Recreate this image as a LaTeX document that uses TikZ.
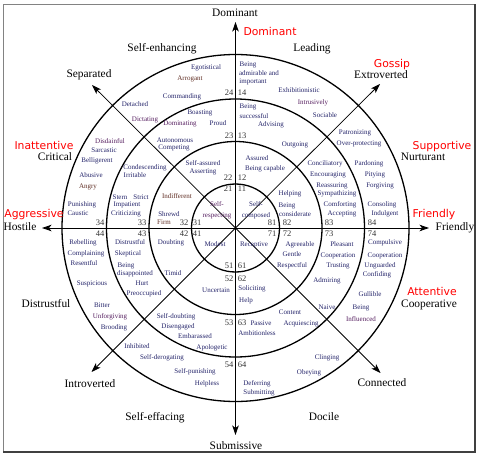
\documentclass[tikz,border=0pt]{standalone}
\usepackage{fontspec}
\setmainfont{Liberation Serif}
\newfontfamily\redsans{DejaVu Sans}
\usetikzlibrary{arrows.meta}
\definecolor{navyt}{RGB}{35,35,105}
\definecolor{purplet}{RGB}{85,30,95}
\definecolor{brownt}{RGB}{95,45,35}
\definecolor{framegray}{RGB}{130,130,130}
\begin{document}
\begin{tikzpicture}[x=1pt,y=-1pt,
  ring/.style={line width=1.3pt},
  axis/.style={line width=0.9pt,-{Stealth[length=9.5pt,width=6.5pt,inset=2.5pt]}},
  diag/.style={line width=0.75pt,-{Stealth[length=9.5pt,width=6.5pt,inset=2.5pt]}},
  lab/.style={font=\fontsize{7}{8}\selectfont,inner sep=0pt,text height=4.6pt,text depth=0.6pt,text=navyt},
  num/.style={font=\fontsize{8.5}{9}\selectfont,inner sep=0pt,text height=5.8pt,text depth=0pt,text=black!80},
  big/.style={font=\fontsize{11.4}{13}\selectfont,inner sep=0pt,text height=7.8pt,text depth=0.6pt},
  redlab/.style={font=\redsans\fontsize{10.8}{12}\selectfont,inner sep=0pt,text height=7.9pt,text depth=0.3pt,text=red}]
\useasboundingbox (0,0) rectangle (478,454);
% frame
\draw[framegray,line width=0.9pt] (3,452) -- (3,4) -- (475,4);
\draw[black!75,line width=1.2pt] (3,452) -- (475,452) -- (475,4);
% centre and axis ends
\coordinate (O) at (235.5,228);
\coordinate (N) at (235.5,22);
\coordinate (S) at (235.5,435);
\coordinate (W) at (42,228);
\coordinate (E) at (429,228);
\coordinate (NW) at (92,85);
\coordinate (NE) at (380,84);
\coordinate (SW) at (91.5,372);
\coordinate (SE) at (380.5,373);
% rings
\foreach \r in {44,86.5,129,173.5} \draw[ring] (O) circle (\r pt);
% axes
\draw[axis] (O) -- (N);
\draw[axis] (O) -- (S);
\draw[axis] (O) -- (W);
\draw[axis] (O) -- (E);
\draw[diag] (O) -- (NW);
\draw[diag] (O) -- (NE);
\draw[diag] (O) -- (SW);
\draw[diag] (O) -- (SE);
% navy labels
\foreach \x/\y/\lbl [count=\i] in {
206/68/Egotistical, 182/97/Commanding, 135/105/Detached, 200/113/Boasting, 218/124/Proud,
175/141/Autonomous, 174/148/Competing, 104/151/Sarcastic, 97/161/Belligerent, 145/168/Condescending,
135/176/Irritable, 91/176/Abusive, 203/164/Self-assured, 203/172/Asserting, 120/197/Stern,
141/197/Strict, 82/204/Punishing, 127/204/Impatient, 78/213/Caustic, 126/213/Criticizing,
169/214/Shrewd, 248/65/Being, 259/74/admirable and, 253/82/important, 299/91/Exhibitionistic,
248/107/Being, 254/117/successful, 325/116/Sociable, 271/125/Advising, 355/133/Patronizing,
359/144/Over-protecting, 295/145/Outgoing, 257/159/Assured, 265/169/Being capable, 325/164/Conciliatory,
369/164/Pardoning, 328/174/Encouraging, 375/175/Pitying, 332/185/Reassuring, 380/185/Forgiving,
290/194/Helping, 337/194/Sympathizing, 256/204/Self-, 256/215/composed, 287/205/Being,
295/214/considerate, 340/204/Comforting, 382/204/Consoling, 342/213/Accepting, 385/213/Indulgent,
83/242/Rebelling, 130/242/Distrustful, 171/242/Doubting, 215/244/Modest, 254/244/Receptive,
300/244/Agreeable, 342/244/Pleasant, 385/242/Compulsive, 86/253/Complaining, 128/253/Skeptical,
292/254/Gentle, 338/255/Cooperation, 385/255/Cooperation, 84/263/Resentful, 126/265/Being,
135/273/disappointed, 292/265/Respectful, 338/265/Trusting, 380/265/Unguarded, 377/274/Confiding,
173/273/Timid, 92/283/Suspicious, 142/283/Hurt, 144/293/Preoccupied, 327/280/Admiring,
252/288/Soliciting, 216/290/Uncertain, 370/294/Gullible, 246/300/Help, 102/305/Bitter,
327/307/Naive, 361/307/Being, 290/312/Content, 176/316/Self-doubting, 261/323/Passive,
301/323/Acquiescing, 178/326/Disengaged, 114/327/Brooding, 257/333/Ambitionless, 195/336/Embarassed,
212/347/Apologetic, 137/346/Inhibited, 162/357/Self-derogating, 327/357/Clinging, 195/371/Self-punishing,
309/372/Obeying, 207/383/Helpless, 257/383/Deferring, 259/392/Submitting}
  \node[lab] (nv\i) at (\x,\y) {\lbl};
% purple labels
\foreach \x/\y/\lbl [count=\i] in {
145/120/Dictating, 180/124/Dominating, 110/142/Disdainful, 313/103/Intrusively,
217/204/Self-, 217/215/respecting, 110/316/Unforgiving, 361/319/Influenced}
  \node[lab,text=purplet] (np\i) at (\x,\y) {\lbl};
% brown labels
\foreach \x/\y/\lbl [count=\i] in {
190/79/Arrogant, 88/186/Angry, 177/196/Indifferent, 164/222/Firm}
  \node[lab,text=brownt] (nb\i) at (\x,\y) {\lbl};
% numbers
\foreach \x/\y/\lbl [count=\i] in {
229/93/24, 242/93/14, 229/136/23, 242/136/13, 228/178/22, 242/178/12, 228/189/21, 242/189/11,
100/223/34, 142/223/33, 184/223/32, 197/223/31, 272/223/81, 287/223/82, 329/223/83, 372/223/84,
100/234/44, 142/234/43, 184/234/42, 197/234/41, 272/234/71, 287/234/72, 329/234/73, 372/234/74,
229/266/51, 242/266/61, 229/279/52, 242/279/62, 229/323/53, 242/323/63, 229/365/54, 242/365/64}
  \node[num] (nn\i) at (\x,\y) {\lbl};
% big black labels
\foreach \x/\y/\lbl [count=\i] in {
235/13/Dominant, 162/48/Self-enhancing, 312/48/Leading, 89/74/Separated, 381/75/Extroverted,
55/157/Critical, 423/157/Nurturant, 20/227/Hostile, 455/227/Friendly, 46/304/Distrustful,
429/304/Cooperative, 90/384/Introverted, 382/383/Connected, 155/417/Self-effacing, 324/417/Docile,
236/446/Submissive}
  \node[big] (nk\i) at (\x,\y) {\lbl};
% red labels
\foreach \x/\y/\lbl [count=\i] in {
270/32/Dominant, 392/64/Gossip, 44/146/Inattentive, 442/146/Supportive, 34/214/Aggressive,
434/214/Friendly, 432/292/Attentive}
  \node[redlab] (nr\i) at (\x,\y) {\lbl};
\end{tikzpicture}
\end{document}
